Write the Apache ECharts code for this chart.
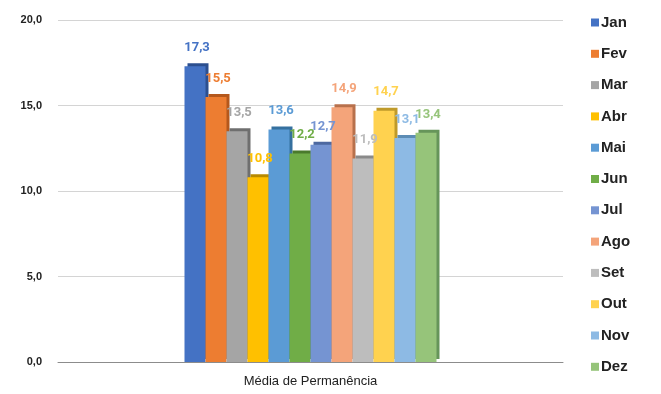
<!DOCTYPE html>
<html>
<head>
<meta charset="utf-8">
<script src="https://cdn.jsdelivr.net/npm/echarts@6/dist/echarts.min.js"></script>
<style>
  html, body { margin: 0; padding: 0; background: #ffffff; }
  #chart { width: 661px; height: 394px; }
</style>
</head>
<body>
<div id="chart"></div>
<script>
// Average length of stay, one bar per month
const categories = ['Média de Permanência'];
const months = ['Jan', 'Fev', 'Mar', 'Abr', 'Mai', 'Jun', 'Jul', 'Ago', 'Set', 'Out', 'Nov', 'Dez'];
const values = [17.3, 15.5, 13.5, 10.8, 13.6, 12.2, 12.7, 14.9, 11.9, 14.7, 13.1, 13.4];
const yTicks = [0, 5, 10, 15, 20];

const colors = ['#4472C4', '#ED7D31', '#A5A5A5', '#FFC000', '#5B9BD5', '#70AD47',
                '#7594D2', '#F4A47A', '#BDBDBD', '#FFD24F', '#8DBAE4', '#96C47A'];
const sideColors = ['#2C4F8F', '#B5581C', '#6F6F6F', '#B88A00', '#35709F', '#4A7A2C',
                    '#4D68A0', '#B8714C', '#8A8A8A', '#BF9A2A', '#5C8CB5', '#66955A'];

const fmt = v => v.toFixed(1).replace('.', ',');

const series = months.map((m, i) => ({
  name: m,
  type: 'bar',
  barWidth: 21,
  barGap: '0%',
  data: [values[i]],
  itemStyle: {
    color: colors[i],
    shadowColor: sideColors[i],
    shadowOffsetX: 3,
    shadowOffsetY: -3,
    shadowBlur: 0
  },
  label: {
    show: true,
    position: 'top',
    distance: 12,
    offset: [2, 0],
    color: colors[i],
    fontFamily: 'Roboto, Arial, sans-serif',
    fontSize: 13,
    fontWeight: 'bold',
    formatter: p => fmt(p.value)
  }
}));

const chart = echarts.init(document.getElementById('chart'));
chart.setOption({
  animation: false,
  backgroundColor: '#ffffff',
  color: colors,
  grid: { left: 58, right: 98, top: 20, bottom: 32, containLabel: false },
  legend: {
    orient: 'vertical',
    left: 586,
    top: 10,
    itemWidth: 8,
    itemHeight: 8,
    itemGap: 16.3,
    icon: 'rect',
    textStyle: {
      fontFamily: 'Arial, "Liberation Sans", sans-serif',
      fontSize: 15,
      fontWeight: 'bold',
      color: '#222222',
      padding: [0, 0, 0, -3]
    },
    data: months
  },
  xAxis: {
    type: 'category',
    data: categories,
    axisLine: { show: true, lineStyle: { color: '#8c8c8c', width: 1 } },
    axisTick: { show: false },
    axisLabel: {
      margin: 13,
      fontFamily: 'Arial, "Liberation Sans", sans-serif',
      fontSize: 13,
      color: '#222222'
    }
  },
  yAxis: {
    type: 'value',
    min: yTicks[0],
    max: yTicks[yTicks.length - 1],
    interval: 5,
    axisLine: { show: false },
    axisTick: { show: false },
    splitLine: { lineStyle: { color: '#d4d4d4', width: 1 } },
    axisLabel: {
      margin: 16,
      fontFamily: 'Arial, "Liberation Sans", sans-serif',
      fontSize: 11,
      fontWeight: 'bold',
      color: '#222222',
      formatter: v => fmt(v)
    }
  },
  series: series
});
</script>
</body>
</html>
